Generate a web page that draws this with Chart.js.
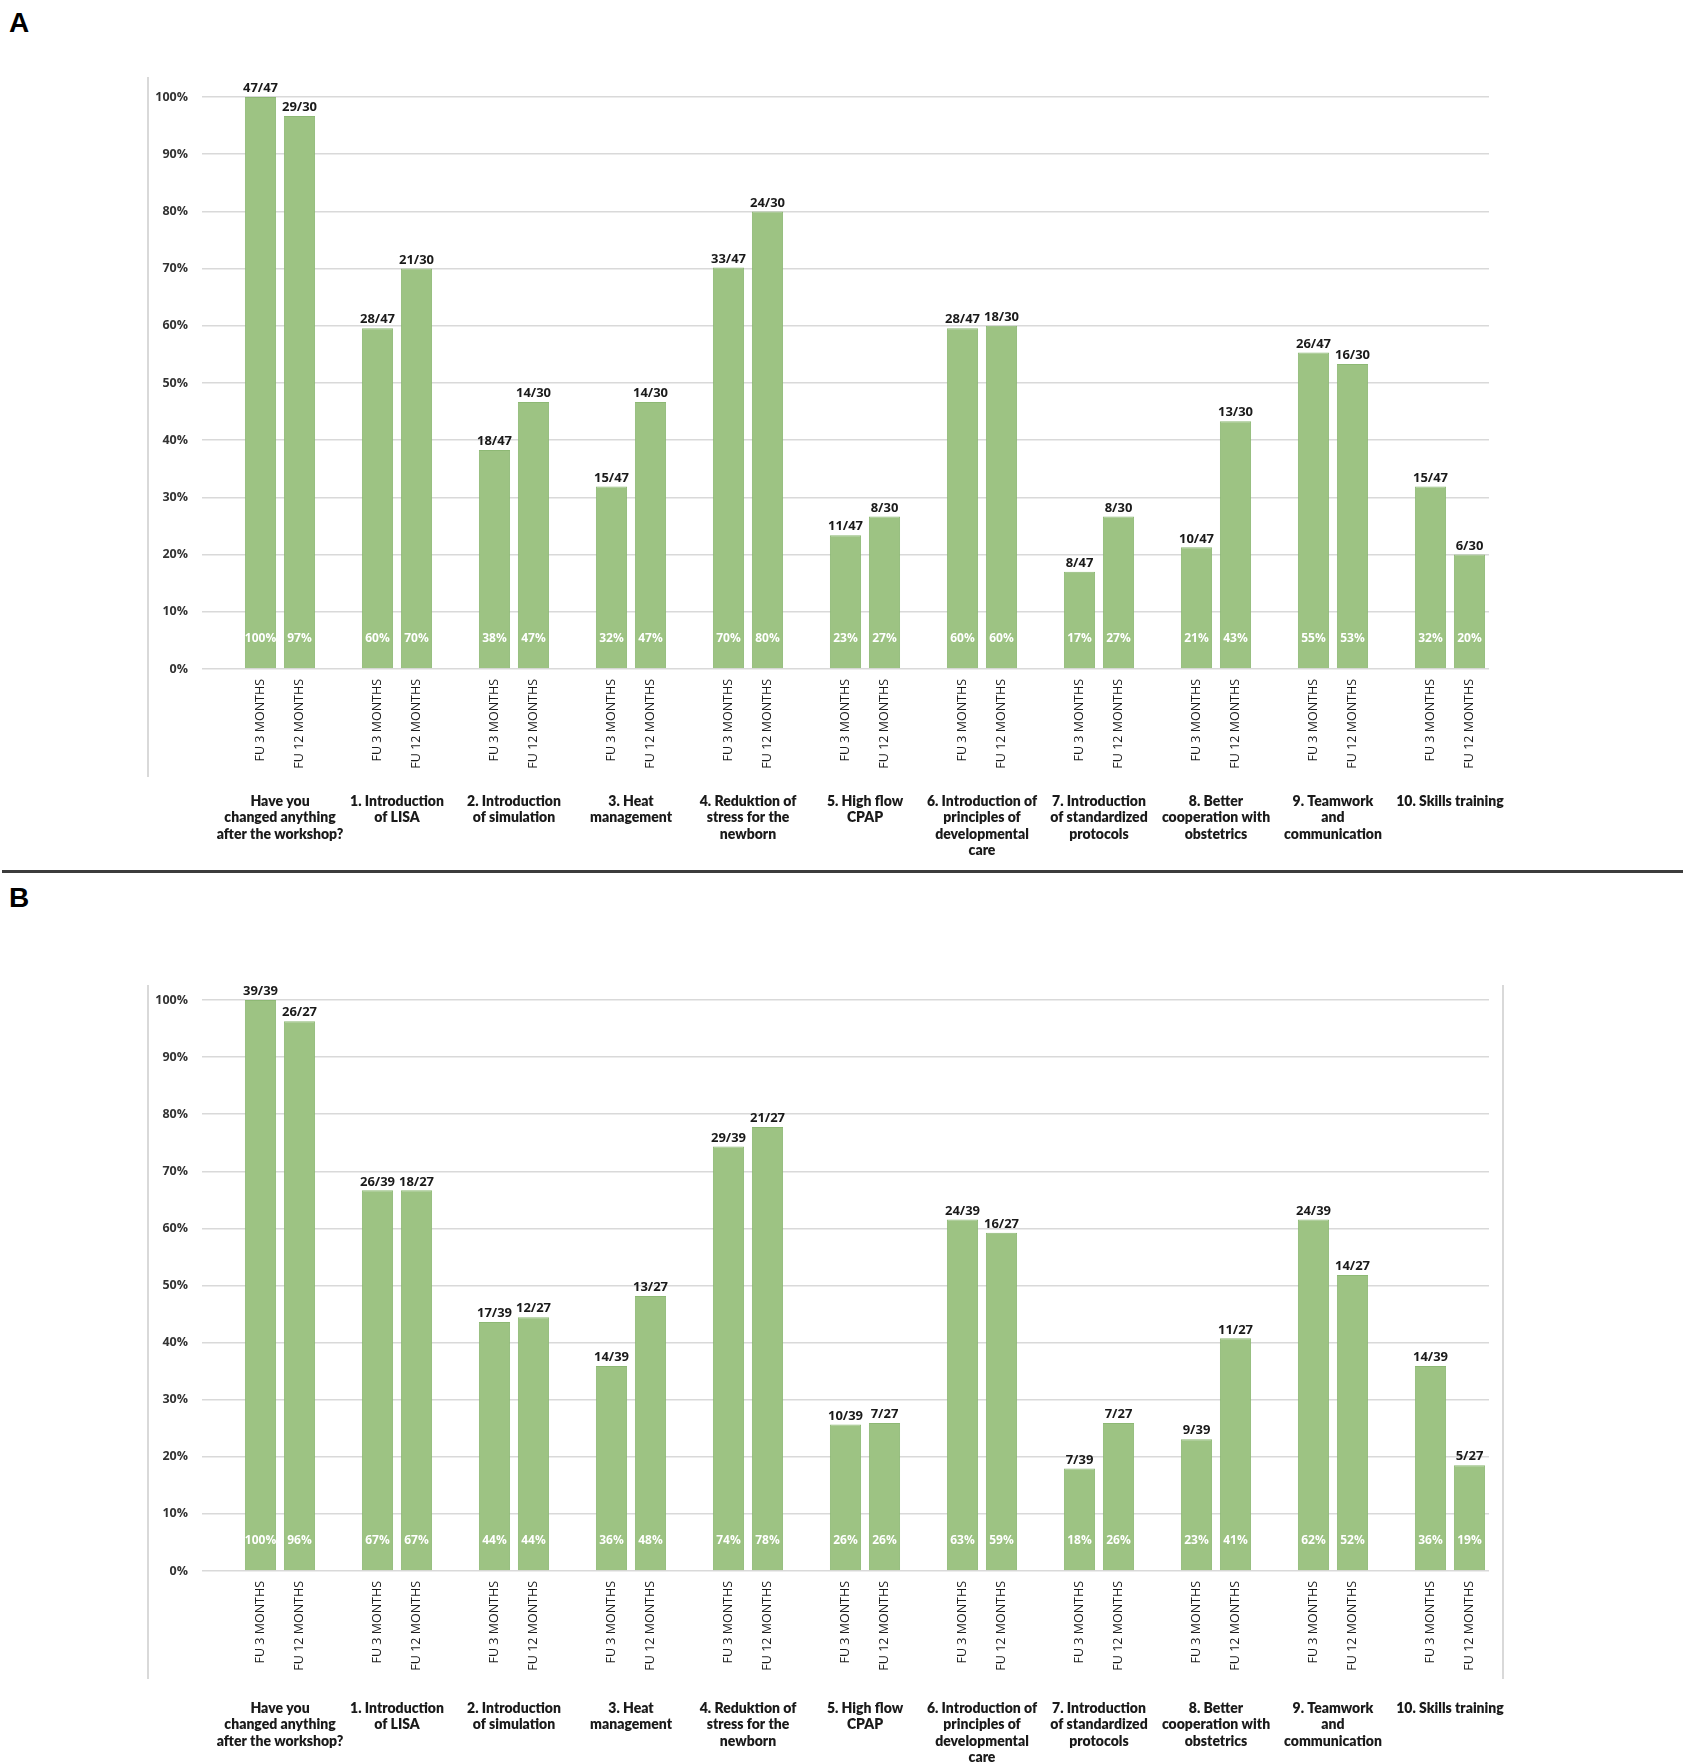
<!DOCTYPE html>
<html>
<head>
<meta charset="utf-8">
<title>Changes after the workshop</title>
<script src="https://cdn.jsdelivr.net/npm/chart.js@4.4.1/dist/chart.umd.min.js"></script>
<style>
  html, body { margin: 0; padding: 0; background: #fff; }
  body { width: 1687px; height: 1764px; position: relative; overflow: hidden; }
  .panel-letter { position: absolute; left: 9px; font: bold 28px 'Liberation Sans', Arial, sans-serif; color: #000; line-height: 28px; }
  .divider { position: absolute; left: 2px; width: 1681px; top: 870px; height: 3px; background: #3c3c3c; }
  canvas { position: absolute; left: 0; }
</style>
</head>
<body>
<div class="panel-letter" style="top:9px">A</div>
<div class="divider"></div>
<div class="panel-letter" style="top:884px">B</div>
<canvas id="chartA" width="1687" height="868" style="top:0"></canvas>
<canvas id="chartB" width="1687" height="884" style="top:880px"></canvas>

<script>
// Categories (group labels, split in lines as in the figure)
const groupNames = [
    ['Have you', 'changed anything', 'after the workshop?'],
    ['1. Introduction', 'of LISA'],
    ['2. Introduction', 'of simulation'],
    ['3. Heat', 'management'],
    ['4. Reduktion of', 'stress for the', 'newborn'],
    ['5. High flow', 'CPAP'],
    ['6. Introduction of', 'principles of', 'developmental', 'care'],
    ['7. Introduction', 'of standardized', 'protocols'],
    ['8. Better', 'cooperation with', 'obstetrics'],
    ['9. Teamwork', 'and', 'communication'],
    ['10. Skills training']
];
const followUps = ['FU 3 MONTHS', 'FU 12 MONTHS'];
const percentTicks = [0, 10, 20, 30, 40, 50, 60, 70, 80, 90, 100];

// Panel A
const totalA3 = 47;
const totalA12 = 30;
const countsA3 = [47, 28, 18, 15, 33, 11, 28, 8, 10, 26, 15];
const countsA12 = [29, 21, 14, 14, 24, 8, 18, 8, 13, 16, 6];
const pctA3 = [100, 60, 38, 32, 70, 23, 60, 17, 21, 55, 32];
const pctA12 = [97, 70, 47, 47, 80, 27, 60, 27, 43, 53, 20];

// Panel B
const totalB3 = 39;
const totalB12 = 27;
const countsB3 = [39, 26, 17, 14, 29, 10, 24, 7, 9, 24, 14];
const countsB12 = [26, 18, 12, 13, 21, 7, 16, 7, 11, 14, 5];
const pctB3 = [100, 67, 44, 36, 74, 26, 63, 18, 23, 62, 36];
const pctB12 = [96, 67, 44, 48, 78, 26, 59, 26, 41, 52, 19];

const barFill = '#9dc383';
const barEdge = '#8db874';
const gridColor = '#d9d9d9';
const textDark = '#1a1a1a';

// Each group takes three slots: an empty one, then FU 3 and FU 12
function buildSlots(c3, t3, c12, t12, p3, p12) {
    const labels = [], values = [], counts = [], pcts = [];
    groupNames.forEach((g, i) => {
        labels.push('', followUps[0], followUps[1]);
        values.push(null, c3[i] / t3 * 100, c12[i] / t12 * 100);
        counts.push(null, c3[i] + '/' + t3, c12[i] + '/' + t12);
        pcts.push(null, p3[i] + '%', p12[i] + '%');
    });
    return { labels, values, counts, pcts };
}

// Value labels, group labels and the outer frame lines
const annotate = {
    id: 'annotate',
    afterDraw(chart, args, opts) {
        const ctx = chart.ctx;
        const ds = chart.data.datasets[0];
        const meta = chart.getDatasetMeta(0);
        const xs = chart.scales.x;
        const ys = chart.scales.y;
        const base = ys.getPixelForValue(0);
        const area = chart.chartArea;
        ctx.save();

        // frame lines
        ctx.strokeStyle = gridColor;
        ctx.lineWidth = 2;
        ctx.beginPath();
        ctx.moveTo(area.left - 54, area.top - opts.frameTop);
        ctx.lineTo(area.left - 54, area.bottom + 108);
        if (opts.rightFrame) {
            ctx.moveTo(area.right + 14, area.top - opts.frameTop);
            ctx.lineTo(area.right + 14, area.bottom + 108);
        }
        ctx.stroke();

        ctx.textAlign = 'center';
        meta.data.forEach((bar, i) => {
            if (ds.data[i] == null) return;
            ctx.fillStyle = textDark;
            ctx.font = 'bold 13px "Open Sans"';
            ctx.textBaseline = 'bottom';
            ctx.fillText(ds.counts[i], bar.x, bar.y - 2);
            ctx.fillStyle = '#ffffff';
            ctx.font = 'bold 12px "Open Sans"';
            ctx.textBaseline = 'middle';
            ctx.fillText(ds.pcts[i], bar.x, base - 30);
        });

        ctx.fillStyle = textDark;
        ctx.font = '800 14px Lato';
        ctx.textBaseline = 'middle';
        groupNames.forEach((lines, g) => {
            const cx = (xs.getPixelForValue(3 * g + 1) + xs.getPixelForValue(3 * g + 2)) / 2;
            lines.forEach((line, k) => {
                ctx.fillText(line, cx, base + opts.groupOffset + k * 16.5);
            });
        });
        ctx.restore();
    }
};

function makeChart(id, slots, topPad, xHeight, groupOffset, frameTop, rightFrame) {
    return new Chart(document.getElementById(id), {
        type: 'bar',
        data: {
            labels: slots.labels,
            datasets: [{
                data: slots.values,
                counts: slots.counts,
                pcts: slots.pcts,
                backgroundColor: barFill,
                borderColor: barEdge,
                borderWidth: 1,
                barPercentage: 0.8,
                categoryPercentage: 1
            }]
        },
        options: {
            responsive: false,
            animation: false,
            events: [],
            layout: { padding: { top: topPad, left: 0, right: 198, bottom: 0 } },
            plugins: {
                legend: { display: false },
                tooltip: { enabled: false },
                annotate: { groupOffset, frameTop, rightFrame }
            },
            scales: {
                x: {
                    grid: { display: false, drawTicks: false },
                    border: { display: false },
                    ticks: {
                        autoSkip: false,
                        minRotation: 90,
                        maxRotation: 90,
                        padding: 10,
                        color: textDark,
                        font: { family: '"Open Sans"', size: 12.5 }
                    },
                    afterFit: function (scale) { scale.height = xHeight; }
                },
                y: {
                    min: 0,
                    max: 100,
                    grid: { color: gridColor, lineWidth: 1.5, drawTicks: false },
                    border: { display: false },
                    afterBuildTicks: function (scale) {
                        scale.ticks = percentTicks.map(v => ({ value: v }));
                    },
                    ticks: {
                        padding: 14,
                        color: '#333',
                        font: { family: '"Open Sans"', size: 12.5, weight: 'bold' },
                        callback: function (v) { return v + '%'; }
                    },
                    afterFit: function (scale) { scale.width = 202; }
                }
            }
        },
        plugins: [annotate]
    });
}

makeChart('chartA', buildSlots(countsA3, totalA3, countsA12, totalA12, pctA3, pctA12), 97, 199, 132, 20, false);
makeChart('chartB', buildSlots(countsB3, totalB3, countsB12, totalB12, pctB3, pctB12), 120, 193, 137, 15, true);
</script>
</body>
</html>
